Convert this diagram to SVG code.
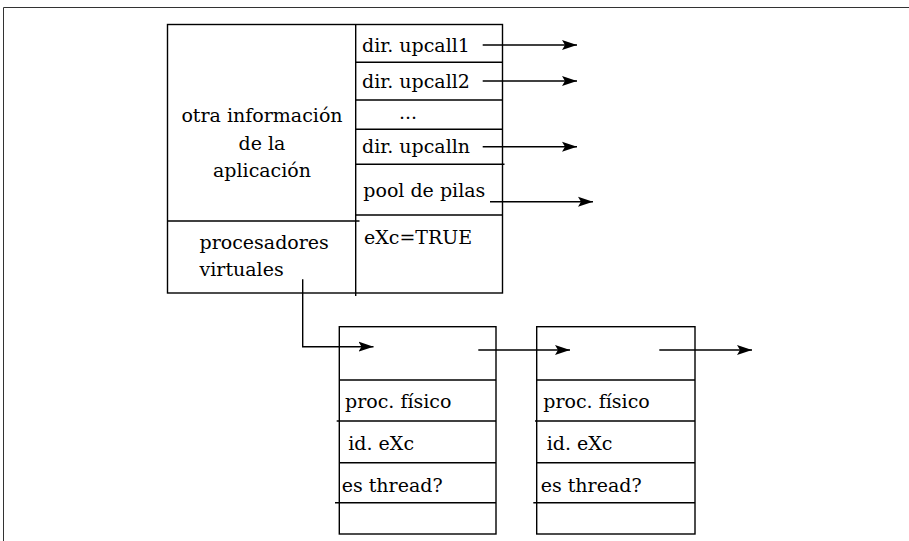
<svg xmlns="http://www.w3.org/2000/svg" width="909" height="541" viewBox="0 0 909 541">
  <style>
    .ln { stroke: #000; stroke-width: 1.4; fill: none; }
    .frame { stroke: #333; stroke-width: 1; fill: none; }
    text { font-family: 'DejaVu Serif', 'Liberation Serif', serif; font-size: 19px; fill: #000; }
    .c { text-anchor: middle; }
    .arr { stroke: #000; stroke-width: 1.4; fill: none; marker-end: url(#head); }
  </style>
  <defs>
    <marker id="head" markerUnits="userSpaceOnUse" markerWidth="17" markerHeight="12" refX="15" refY="5.5" orient="auto">
      <path d="M0,0.5 L15,5.5 L0,10.5 L3,5.5 Z" fill="#000"/>
    </marker>
  </defs>

  <rect width="909" height="541" fill="#fff"/>
  <!-- outer frame (only top and left edges fall inside the page) -->
  <path class="frame" d="M3.5,541 V7.5 H909"/>

  <!-- application descriptor -->
  <g id="app-descriptor">
    <rect class="ln" x="167.5" y="24.5" width="335" height="268.5"/>
    <line class="ln" x1="355.7" y1="24.5" x2="355.7" y2="296"/>
    <line class="ln" x1="355.7" y1="62.3" x2="502.5" y2="62.3"/>
    <line class="ln" x1="355.7" y1="100" x2="502.5" y2="100"/>
    <line class="ln" x1="355.7" y1="129.3" x2="502.5" y2="129.3"/>
    <line class="ln" x1="355.7" y1="164.3" x2="504.5" y2="164.3"/>
    <line class="ln" x1="355.7" y1="215" x2="502.5" y2="215"/>
    <line class="ln" x1="167.5" y1="221" x2="359.5" y2="221"/>
    <text class="c" x="262" y="121.7">otra información</text>
    <text class="c" x="262" y="150">de la</text>
    <text class="c" x="262" y="177">aplicación</text>
    <text x="199.5" y="249.3">procesadores</text>
    <text x="199.5" y="276">virtuales</text>
    <text x="362" y="52">dir. upcall1</text>
    <text x="362" y="88">dir. upcall2</text>
    <text class="c" x="408" y="119.3">...</text>
    <text x="362" y="153.3">dir. upcalln</text>
    <text x="363.3" y="196.7">pool de pilas</text>
    <text x="364" y="244">eXc=TRUE</text>
  </g>

  <!-- first virtual processor -->
  <g id="vproc-1">
    <rect class="ln" x="339.3" y="326.7" width="156.7" height="207.3"/>
    <line class="ln" x1="339.3" y1="380" x2="496" y2="380"/>
    <line class="ln" x1="336.7" y1="421" x2="496" y2="421"/>
    <line class="ln" x1="339.3" y1="462.7" x2="496" y2="462.7"/>
    <line class="ln" x1="335" y1="502.7" x2="496" y2="502.7"/>
    <text x="345" y="408.3">proc. físico</text>
    <text x="348.3" y="450">id. eXc</text>
    <text x="341.7" y="491.7">es thread?</text>
  </g>

  <!-- second virtual processor -->
  <g id="vproc-2">
    <rect class="ln" x="536.7" y="326.7" width="158.3" height="207.3"/>
    <line class="ln" x1="536.7" y1="380" x2="695" y2="380"/>
    <line class="ln" x1="535" y1="421" x2="695" y2="421"/>
    <line class="ln" x1="536.7" y1="462.7" x2="695" y2="462.7"/>
    <line class="ln" x1="533.3" y1="502.7" x2="695" y2="502.7"/>
    <text x="543.3" y="408.3">proc. físico</text>
    <text x="546.7" y="450">id. eXc</text>
    <text x="540.7" y="491.7">es thread?</text>
  </g>

  <!-- pointers -->
  <g id="connectors">
    <line class="arr" x1="482.7" y1="45" x2="577" y2="45"/>
    <line class="arr" x1="482.7" y1="81" x2="577" y2="81"/>
    <line class="arr" x1="482.7" y1="146.7" x2="577" y2="146.7"/>
    <line class="arr" x1="490" y1="201.7" x2="593" y2="201.7"/>
    <polyline class="arr" points="302.7,279.3 302.7,346.7 373.5,346.7"/>
    <line class="arr" x1="478.3" y1="350" x2="570" y2="350"/>
    <line class="arr" x1="659.3" y1="350" x2="752" y2="350"/>
  </g>
</svg>
